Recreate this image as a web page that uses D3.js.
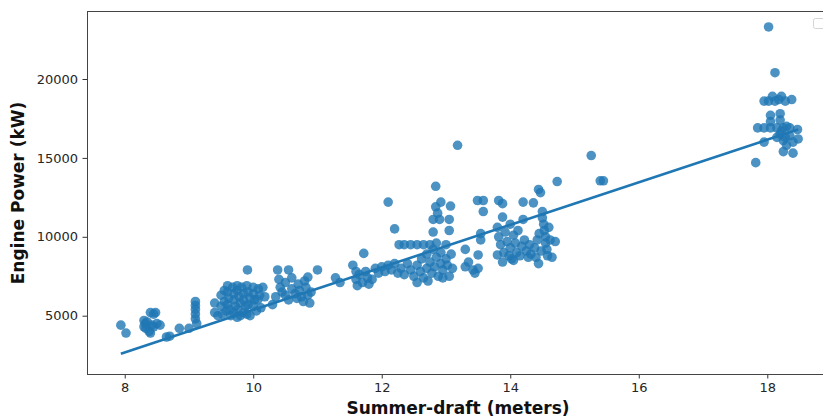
<!DOCTYPE html>
<html lang="en">
<head>
  <meta charset="UTF-8">
  <title>Engine Power vs Summer-draft</title>
  <script src="https://d3js.org/d3.v7.min.js"></script>
  <style>
    body { margin: 0; background: #fff; }
    .tick text { font-family: "DejaVu Sans", sans-serif; font-size: 13px; fill: #262626; }
    .tick line { stroke: #333; }
    .axis-title { font-family: "DejaVu Sans", sans-serif; font-size: 17px; font-weight: bold; fill: #111; }
  </style>
</head>
<body>
  <div id="chart"></div>

  <script>
    const xTicks = [8, 10, 12, 14, 16, 18];
    const yTicks = [5000, 10000, 15000, 20000];

    // [summer draft (m), engine power (kW)]
    const vessels = [
      [7.94, 4400], [8.02, 3900],
      [8.3, 4700], [8.32, 4500], [8.3, 4300], [8.33, 4200], [8.35, 4600], [8.38, 4000],
      [8.4, 5200], [8.48, 5200], [8.45, 5100], [8.42, 4400], [8.5, 4500], [8.45, 4300], [8.55, 4400], [8.4, 3900],
      [8.65, 3650], [8.7, 3700], [8.85, 4200], [9.0, 4200],
      [9.1, 5900], [9.1, 5650], [9.1, 5400], [9.1, 5100], [9.1, 4800], [9.12, 4500],
      [9.4, 5800], [9.4, 5200], [9.45, 5000],
      [9.5, 6300], [9.5, 5600], [9.52, 5100], [9.55, 6600], [9.55, 5900], [9.58, 5300],
      [9.6, 6900], [9.6, 6500], [9.62, 6100], [9.6, 5700], [9.63, 5400], [9.65, 5000],
      [9.68, 6800], [9.7, 6400], [9.7, 6000], [9.72, 5600], [9.7, 5200],
      [9.75, 6900], [9.75, 6600], [9.78, 6200], [9.8, 5800], [9.76, 5400], [9.8, 5000], [9.75, 4900],
      [9.82, 6800], [9.85, 6400], [9.85, 6000], [9.88, 5600], [9.85, 5200],
      [9.9, 6900], [9.92, 6500], [9.95, 6100], [9.92, 5700], [9.9, 5100], [9.95, 5000], [9.91, 7900],
      [10.0, 6800], [10.0, 6400], [10.02, 6000], [10.0, 5600], [10.05, 5300],
      [10.08, 6700], [10.1, 6300], [10.07, 6000], [10.12, 5500], [10.15, 6800], [10.18, 6200],
      [10.3, 5700], [10.35, 6200], [10.38, 7900], [10.55, 7900], [10.4, 7300], [10.42, 6800], [10.45, 6500],
      [10.5, 7100], [10.5, 6300], [10.55, 6000], [10.6, 7400], [10.6, 6700], [10.65, 6400], [10.68, 6100],
      [10.7, 7000], [10.72, 6600], [10.75, 6200], [10.78, 5900], [10.8, 7200], [10.82, 6800], [10.85, 6300],
      [10.88, 5800], [10.9, 6500], [11.0, 7900], [10.85, 7450],
      [11.28, 7400], [11.35, 7100], [11.55, 8200], [11.6, 7800], [11.6, 7300], [11.62, 6900], [11.65, 7600],
      [11.72, 8950], [11.7, 7100], [11.75, 7800], [11.78, 7400], [11.8, 7000], [11.85, 7300], [11.9, 8000], [11.95, 7700],
      [12.0, 8100], [12.05, 7800], [12.1, 8200], [12.1, 12200], [12.15, 7900], [12.2, 10500], [12.2, 8300],
      [12.25, 7700], [12.27, 9500], [12.3, 8000], [12.35, 9500], [12.35, 7600], [12.4, 8300], [12.45, 9500],
      [12.45, 7900], [12.5, 7500], [12.55, 9500], [12.55, 8200], [12.55, 7100], [12.6, 7800], [12.62, 8600],
      [12.65, 9500], [12.65, 7400], [12.7, 8000], [12.7, 8900], [12.72, 7200], [12.75, 9500], [12.75, 8400],
      [12.78, 7700], [12.8, 10300], [12.8, 11100], [12.8, 9200], [12.82, 8100], [12.84, 13200], [12.84, 11900],
      [12.85, 9600], [12.85, 8700], [12.88, 7500], [12.87, 11500], [12.92, 12200], [12.9, 11100], [12.92, 9000],
      [12.92, 8300], [12.95, 7900], [12.95, 7400], [13.0, 9500], [13.0, 8600], [13.02, 8200], [13.07, 11950],
      [13.05, 11100], [13.05, 10400], [13.05, 7500], [13.08, 8900], [13.1, 8000], [13.18, 15800],
      [13.3, 9200], [13.35, 8400], [13.3, 8100], [13.45, 7700], [13.5, 8000], [13.5, 8850], [13.42, 7900],
      [13.49, 12300], [13.58, 12300], [13.54, 10200], [13.54, 9800], [13.58, 11600],
      [13.82, 12300], [13.88, 12100], [13.88, 11250], [13.8, 10600], [13.82, 10000], [13.85, 9500], [13.8, 8850],
      [13.88, 8400], [13.9, 9000], [13.92, 10300], [13.95, 9700], [13.98, 8800], [14.0, 10800], [14.0, 9300],
      [14.02, 8600], [14.05, 10100], [14.05, 8500], [14.08, 9600], [14.1, 9000], [14.12, 10400], [14.15, 8800],
      [14.18, 9400], [14.2, 11100], [14.2, 12200], [14.22, 9800], [14.25, 9100], [14.28, 8700], [14.3, 9500],
      [14.32, 8900], [14.36, 12150], [14.38, 9300], [14.4, 8700], [14.42, 9800], [14.44, 13000], [14.44, 8300],
      [14.47, 12800], [14.45, 10200], [14.48, 9100], [14.5, 11600], [14.5, 11200], [14.52, 10800], [14.53, 10400],
      [14.55, 10000], [14.55, 9600], [14.57, 9200], [14.58, 8800], [14.6, 10600], [14.62, 9800], [14.65, 8700],
      [14.7, 9700], [14.73, 13500],
      [15.26, 15150], [15.4, 13550], [15.45, 13550],
      [18.02, 23300], [18.12, 20400],
      [17.95, 18600], [18.02, 18600], [18.08, 18900], [18.12, 18600], [18.18, 18700], [18.22, 18900],
      [18.28, 18600], [18.38, 18700], [18.05, 17700], [18.05, 17300], [18.2, 17800], [18.2, 17400],
      [17.85, 16900], [17.95, 16900], [18.05, 16900], [18.15, 16900], [18.25, 16900], [18.35, 16900], [18.47, 16800],
      [17.95, 16000], [18.2, 16500], [18.25, 16100], [18.3, 15800], [18.35, 16400], [18.4, 16000], [18.48, 16200],
      [18.25, 15400], [18.4, 15300], [17.82, 14700], [18.3, 17000], [18.15, 16300], [18.22, 16700], [18.28, 16300]
    ];

    // regression line end points
    const fitLine = [[7.94, 2590], [18.48, 16800]];

    const width = 823;
    const height = 417;
    const plotLeft = 87, plotRight = 832, plotTop = 11, plotBottom = 374;

    const svg = d3.select("#chart")
      .append("svg")
      .attr("width", width)
      .attr("height", height);

    const x = d3.scaleLinear()
      .domain([7.413, 19.007])
      .range([plotLeft, plotRight]);

    const y = d3.scaleLinear()
      .domain([1305, 24310])
      .range([plotBottom, plotTop]);

    const xAxis = svg.append("g")
      .attr("transform", `translate(0, ${plotBottom})`)
      .call(d3.axisBottom(x).tickValues(xTicks).tickSize(4.5).tickPadding(4.5).tickSizeOuter(0));
    xAxis.select(".domain").remove();

    const yAxis = svg.append("g")
      .attr("transform", `translate(${plotLeft}, 0)`)
      .call(d3.axisLeft(y).tickValues(yTicks).tickSize(4.5).tickPadding(4.5).tickFormat(d3.format("d")).tickSizeOuter(0));
    yAxis.select(".domain").remove();

    // points
    svg.append("g")
      .selectAll("circle")
      .data(vessels)
      .enter()
      .append("circle")
      .attr("cx", d => x(d[0]))
      .attr("cy", d => y(d[1]))
      .attr("r", 4.8)
      .attr("fill", "#1f77b4")
      .attr("fill-opacity", 0.8);

    // fitted line
    svg.append("path")
      .datum(fitLine)
      .attr("fill", "none")
      .attr("stroke", "#1f77b4")
      .attr("stroke-width", 2.6)
      .attr("d", d3.line().x(d => x(d[0])).y(d => y(d[1])));

    // spines
    const spine = "#444";
    svg.append("line").attr("x1", plotLeft + 0.5).attr("x2", plotLeft + 0.5)
      .attr("y1", plotTop).attr("y2", plotBottom).attr("stroke", spine);
    svg.append("line").attr("x1", plotLeft).attr("x2", plotRight)
      .attr("y1", plotBottom + 0.5).attr("y2", plotBottom + 0.5).attr("stroke", spine);
    svg.append("line").attr("x1", plotLeft).attr("x2", plotRight)
      .attr("y1", plotTop + 0.5).attr("y2", plotTop + 0.5).attr("stroke", spine);
    svg.append("line").attr("x1", plotRight + 0.5).attr("x2", plotRight + 0.5)
      .attr("y1", plotTop).attr("y2", plotBottom).attr("stroke", spine);

    // empty legend frame
    svg.append("rect")
      .attr("x", 813.5).attr("y", 18.5)
      .attr("width", 30).attr("height", 10)
      .attr("rx", 2)
      .attr("fill", "#fff")
      .attr("stroke", "#d5d5d5");

    // titles
    svg.append("text")
      .attr("class", "axis-title")
      .attr("x", 458)
      .attr("y", 414)
      .attr("text-anchor", "middle")
      .text("Summer-draft (meters)");

    svg.append("text")
      .attr("class", "axis-title")
      .attr("transform", "translate(24, 193) rotate(-90)")
      .attr("text-anchor", "middle")
      .text("Engine Power (kW)");
  </script>
</body>
</html>
